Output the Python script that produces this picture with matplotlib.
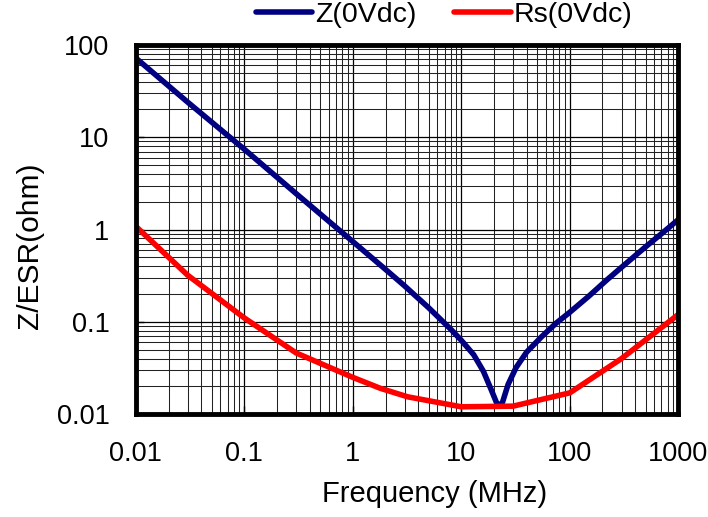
import matplotlib
matplotlib.use("Agg")
import matplotlib.pyplot as plt
import numpy as np

plt.rcParams["font.family"] = ["Liberation Sans", "DejaVu Sans"]

# impedance |Z| at 0 Vdc
z_freq = [0.01, 0.03, 0.1, 0.3, 1, 2, 3, 5, 8, 10, 13, 16, 19, 21, 22.5, 24, 27, 32,
          40, 55, 75, 100, 150, 220, 300, 500, 700, 1000]
z_ohm = [72, 24, 7.4, 2.45, 0.74, 0.37, 0.245, 0.142, 0.083, 0.063, 0.044, 0.029,
         0.018, 0.0135, 0.0122, 0.0135, 0.021, 0.032, 0.047, 0.069, 0.097, 0.127,
         0.19, 0.285, 0.39, 0.65, 0.9, 1.28]

# ESR at 0 Vdc
rs_freq = [0.01, 0.03, 0.1, 0.3, 1, 1.8, 3.2, 10, 30, 100, 300, 1000]
rs_ohm = [1.08, 0.32, 0.11, 0.046, 0.025, 0.019, 0.0154, 0.012, 0.0122, 0.017,
          0.040, 0.12]

x_ticks = [0.01, 0.1, 1, 10, 100, 1000]
x_labels = ["0.01", "0.1", "1", "10", "100", "1000"]
y_ticks = [0.01, 0.1, 1, 10, 100]
y_labels = ["0.01", "0.1", "1", "10", "100"]

fig = plt.figure(figsize=(7.08, 5.17), dpi=100)
ax = fig.add_axes([0.192, 0.199, 0.766, 0.714])

ax.plot(z_freq, z_ohm, color="#000080", lw=4, label="Z(0Vdc)",
        solid_capstyle="round", solid_joinstyle="round", zorder=3)
ax.plot(rs_freq, rs_ohm, color="#ff0000", lw=4, label="Rs(0Vdc)",
        solid_capstyle="round", solid_joinstyle="round", zorder=3)

ax.set_xscale("log")
ax.set_yscale("log")
ax.set_xlim(0.01, 1000)
ax.set_ylim(0.01, 100)
ax.set_xticks(x_ticks)
ax.set_xticklabels(x_labels)
ax.set_yticks(y_ticks)
ax.set_yticklabels(y_labels)

ax.grid(True, which="major", color="black", lw=0.9)
ax.grid(True, which="minor", color="#222222", lw=0.75)
ax.tick_params(which="major", direction="in", length=6, width=1, labelsize=19.5, pad=19)
ax.tick_params(which="minor", length=0)
for s in ax.spines.values():
    s.set_linewidth(3.5)
    s.set_zorder(4)

ax.set_xlabel("Frequency (MHz)", fontsize=21)
ax.set_ylabel("Z/ESR(ohm)", fontsize=21.5)
ax.xaxis.label.set_va("center")
ax.yaxis.label.set_va("center")
ax.xaxis.set_label_coords(0.55, -0.217)
ax.yaxis.set_label_coords(-0.196, 0.455)

fig.legend(loc="center", bbox_to_anchor=(0.627, 0.971), ncol=2, frameon=False,
           fontsize=20.5, handlelength=2.0, handletextpad=0.1, columnspacing=1.3,
           borderaxespad=0)

fig.savefig("out.png", dpi=100)
